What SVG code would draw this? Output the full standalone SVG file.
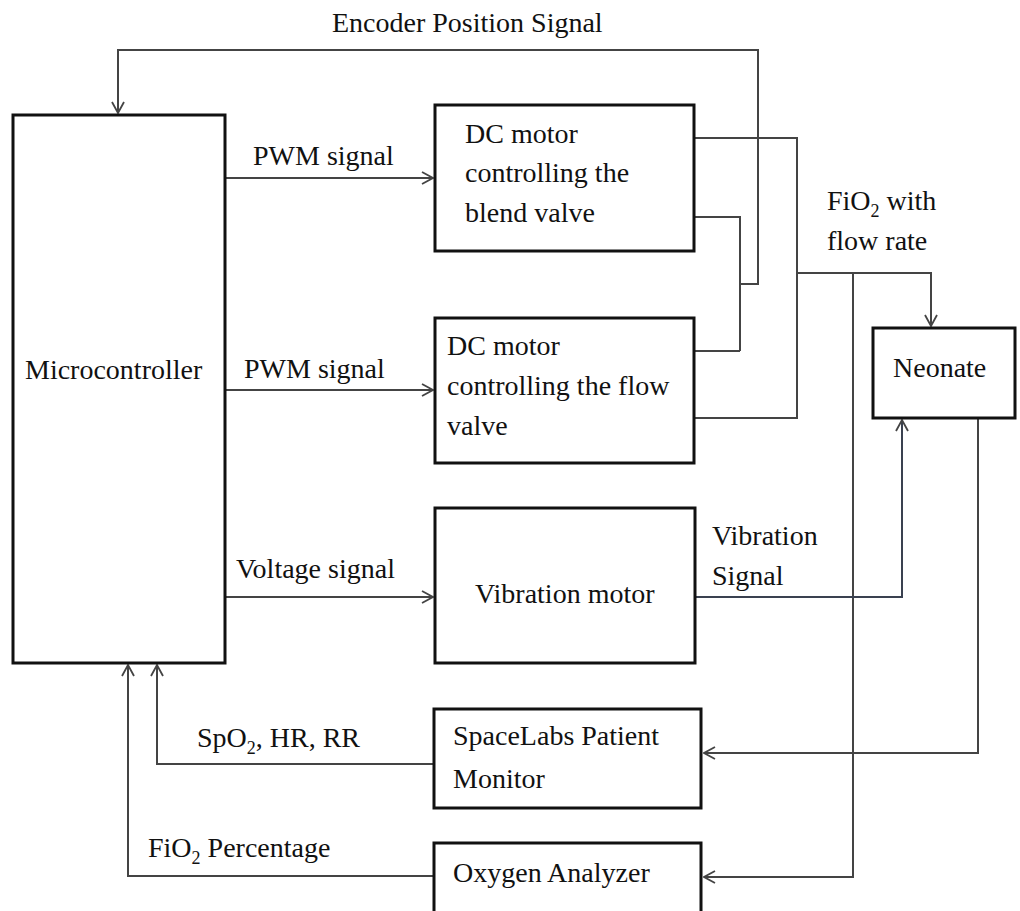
<svg xmlns="http://www.w3.org/2000/svg" width="1020" height="911" viewBox="0 0 1020 911">
<style>
.box{fill:#fff;stroke:#111;stroke-width:3}
.ln{fill:none;stroke:#444;stroke-width:2}
.t{font-family:"Liberation Serif","Times New Roman",serif;font-size:28px;fill:#111}
.sub{font-size:18px}
</style>
<defs>
<marker id="arr" viewBox="0 0 14 14" refX="13" refY="7" markerWidth="14" markerHeight="14" orient="auto" markerUnits="userSpaceOnUse">
<path d="M2,1 L13,7 L2,13" fill="none" stroke="#444" stroke-width="1.8"/>
</marker>
</defs>
<rect width="1020" height="911" fill="#fff"/>
<g id="connectors">
<path class="ln" d="M693 217 H740 V351 M693 351 H740"/>
<path class="ln" d="M740 284 H758 V50 H118 V113" marker-end="url(#arr)"/>
<path class="ln" d="M693 138 H797 V418 H693"/>
<path class="ln" d="M797 273 H931 V326" marker-end="url(#arr)"/>
<path class="ln" d="M853 273 V877 H704" marker-end="url(#arr)"/>
<path class="ln" d="M695 597 H902 V420" marker-end="url(#arr)" style="stroke:#3a4150"/>
<path class="ln" d="M978 419 V753 H704" marker-end="url(#arr)"/>
<path class="ln" d="M225 178 H433" marker-end="url(#arr)"/>
<path class="ln" d="M225 390 H433" marker-end="url(#arr)"/>
<path class="ln" d="M225 597 H433" marker-end="url(#arr)"/>
<path class="ln" d="M433 764 H157 V665" marker-end="url(#arr)"/>
<path class="ln" d="M433 876 H128 V665" marker-end="url(#arr)"/>
<text class="t" x="332" y="32">Encoder Position Signal</text>
<text class="t" x="253" y="165">PWM signal</text>
<text class="t" x="244" y="378">PWM signal</text>
<text class="t" x="236" y="578">Voltage signal</text>
<text class="t" x="827" y="210">FiO<tspan class="sub" dy="7">2</tspan><tspan dy="-7"> with</tspan></text>
<text class="t" x="827" y="250">flow rate</text>
<text class="t" x="712" y="545">Vibration</text>
<text class="t" x="712" y="585">Signal</text>
<text class="t" x="197" y="747">SpO<tspan class="sub" dy="7">2</tspan><tspan dy="-7">, HR, RR</tspan></text>
<text class="t" x="148" y="857">FiO<tspan class="sub" dy="7">2</tspan><tspan dy="-7"> Percentage</tspan></text>
</g>
<g id="microcontroller">
<rect class="box" x="13" y="115" width="212" height="548"/>
<text class="t" x="25" y="379">Microcontroller</text>
</g>
<g id="dc-blend">
<rect class="box" x="435" y="105" width="259" height="146"/>
<text class="t" x="465" y="143">DC motor</text>
<text class="t" x="465" y="182">controlling the</text>
<text class="t" x="465" y="222">blend valve</text>
</g>
<g id="dc-flow">
<rect class="box" x="435" y="318" width="259" height="145"/>
<text class="t" x="447" y="355">DC motor</text>
<text class="t" x="447" y="395">controlling the flow</text>
<text class="t" x="447" y="435">valve</text>
</g>
<g id="vibration-motor">
<rect class="box" x="435" y="508" width="260" height="155"/>
<text class="t" x="475" y="603">Vibration motor</text>
</g>
<g id="neonate">
<rect class="box" x="873" y="328" width="142" height="90"/>
<text class="t" x="893" y="377">Neonate</text>
</g>
<g id="spacelabs">
<rect class="box" x="434" y="709" width="267" height="99"/>
<text class="t" x="453" y="745">SpaceLabs Patient</text>
<text class="t" x="453" y="788">Monitor</text>
</g>
<g id="oxygen-analyzer">
<rect class="box" x="434" y="843" width="267" height="70"/>
<text class="t" x="453" y="882">Oxygen Analyzer</text>
</g>
</svg>
